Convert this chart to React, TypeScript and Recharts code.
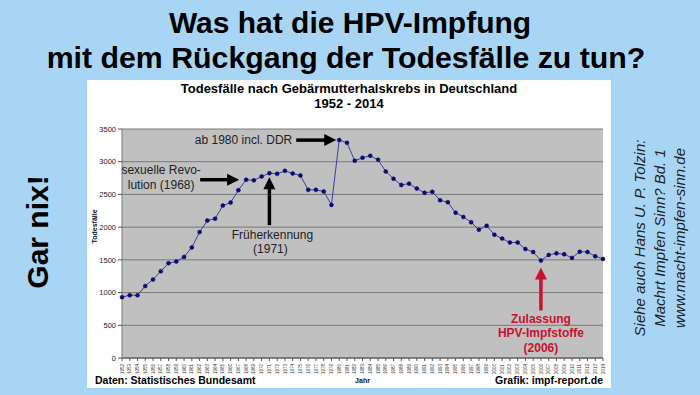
import React from "react";
import {
  LineChart,
  Line,
  XAxis,
  YAxis,
  CartesianGrid,
  ReferenceDot,
} from "recharts";

// ── Data ─────────────────────────────────────────────────────────────────────

const years = [
  1952, 1953, 1954, 1955, 1956, 1957, 1958, 1959, 1960, 1961, 1962, 1963,
  1964, 1965, 1966, 1967, 1968, 1969, 1970, 1971, 1972, 1973, 1974, 1975,
  1976, 1977, 1978, 1979, 1980, 1981, 1982, 1983, 1984, 1985, 1986, 1987,
  1988, 1989, 1990, 1991, 1992, 1993, 1994, 1995, 1996, 1997, 1998, 1999,
  2000, 2001, 2002, 2003, 2004, 2005, 2006, 2007, 2008, 2009, 2010, 2011,
  2012, 2013, 2014,
];

const deaths = [
  930, 960, 960, 1100, 1200, 1325, 1450, 1475, 1545, 1690, 1925, 2100,
  2130, 2330, 2375, 2565, 2725, 2715, 2775, 2825, 2815, 2860, 2820, 2790,
  2570, 2570, 2545, 2340, 3330, 3290, 3015, 3060, 3090, 3030, 2850, 2740,
  2645, 2665, 2590, 2525, 2540, 2410, 2380, 2220, 2155, 2075, 1960, 2020,
  1885, 1825, 1765, 1765, 1665, 1620, 1490, 1575, 1600, 1585, 1530, 1625,
  1620, 1555, 1515,
];

const yTicks = [0, 500, 1000, 1500, 2000, 2500, 3000, 3500];

const data = years.map((y, i) => ({ year: String(y), deaths: deaths[i] }));

// ── Styles ───────────────────────────────────────────────────────────────────

const FONT = "'Liberation Sans', Arial, sans-serif";
const BG = "#a9d5f5";
const RED = "#c8122e";

const abs = (style: React.CSSProperties): React.CSSProperties => ({
  position: "absolute",
  fontFamily: FONT,
  whiteSpace: "nowrap",
  lineHeight: 1,
  ...style,
});

// ── Annotation shapes (anchored to data points) ──────────────────────────────

function HArrow({ x1, x2, y, color = "#000" }: { x1: number; x2: number; y: number; color?: string }) {
  const head = 12;
  return (
    <g>
      <line x1={x1} y1={y} x2={x2 - head + 1} y2={y} stroke={color} strokeWidth={3.5} />
      <polygon points={`${x2},${y} ${x2 - head},${y - 6} ${x2 - head},${y + 6}`} fill={color} />
    </g>
  );
}

function VArrow({ x, y1, y2, color = "#000" }: { x: number; y1: number; y2: number; color?: string }) {
  const head = 12;
  return (
    <g>
      <line x1={x} y1={y2} x2={x} y2={y1 + head - 1} stroke={color} strokeWidth={3.5} />
      <polygon points={`${x},${y1} ${x - 6},${y1 + head} ${x + 6},${y1 + head}`} fill={color} />
    </g>
  );
}

const annText = { fontFamily: FONT, fontSize: 12, fill: "#222" };

const DdrShape = ({ cx, cy }: any) => (
  <g>
    <HArrow x1={cx - 43} x2={cx - 3} y={cy} />
    <text x={cx - 47} y={cy + 4} textAnchor="end" {...annText}>
      ab 1980 incl. DDR
    </text>
  </g>
);

const RevoShape = ({ cx, cy }: any) => (
  <g>
    <HArrow x1={cx - 46} x2={cx - 7} y={cy} />
    <text x={cx - 85} y={cy - 6} textAnchor="middle" {...annText}>
      sexuelle Revo-
    </text>
    <text x={cx - 85} y={cy + 9} textAnchor="middle" {...annText}>
      lution (1968)
    </text>
  </g>
);

const FruehShape = ({ cx, cy }: any) => (
  <g>
    <VArrow x={cx} y1={cy + 4} y2={cy + 52} />
    <text x={cx + 3} y={cy + 66} textAnchor="middle" {...annText}>
      Früherkennung
    </text>
    <text x={cx + 1} y={cy + 80} textAnchor="middle" {...annText}>
      (1971)
    </text>
  </g>
);

const HpvShape = ({ cx, cy }: any) => {
  const t = { fontFamily: FONT, fontSize: 12, fontWeight: 700, fill: RED };
  return (
    <g>
      <VArrow x={cx} y1={cy + 7} y2={cy + 50} color={RED} />
      <text x={cx} y={cy + 62} textAnchor="middle" {...t}>Zulassung</text>
      <text x={cx} y={cy + 76} textAnchor="middle" {...t}>HPV-Impfstoffe</text>
      <text x={cx} y={cy + 91} textAnchor="middle" {...t}>(2006)</text>
    </g>
  );
};

const YearTick = ({ x, y, payload }: any) => (
  <text
    x={x}
    y={y + 1}
    transform={`rotate(-90 ${x} ${y + 1})`}
    textAnchor="end"
    dy={1.6}
    fontSize={4.5}
    fontFamily={FONT}
    fill="#333"
  >
    {payload.value}
  </text>
);

// ── Chart ────────────────────────────────────────────────────────────────────

function DeathsChart() {
  return (
    <LineChart
      width={524}
      height={308}
      data={data}
      margin={{ top: 49, right: 8, left: 0, bottom: 0 }}
    >
      <CartesianGrid vertical={false} fill="#c0c0c0" stroke="#7a7a7a" strokeWidth={1} />
      <XAxis
        dataKey="year"
        interval={0}
        height={30}
        tick={<YearTick />}
        tickLine={{ stroke: "#555" }}
        tickSize={3}
        axisLine={{ stroke: "#555" }}
        label={{
          value: "Jahr",
          position: "insideBottom",
          offset: 5,
          fontSize: 7,
          fontWeight: 700,
          fill: "#111",
          fontFamily: FONT,
        }}
      />
      <YAxis
        width={35}
        domain={[0, 3500]}
        ticks={yTicks}
        interval={0}
        tick={{ fontSize: 7.5, fill: "#222", fontFamily: FONT }}
        tickSize={4}
        tickLine={{ stroke: "#555" }}
        axisLine={{ stroke: "#777" }}
        label={{
          value: "Todesfälle",
          angle: -90,
          position: "insideLeft",
          offset: 8,
          fontSize: 7,
          fontWeight: 700,
          fill: "#111",
          fontFamily: FONT,
        }}
      />
      <Line
        type="linear"
        dataKey="deaths"
        stroke="#3b3ba8"
        strokeWidth={1}
        dot={{ r: 2, fill: "#0b0b70", stroke: "#0b0b70", strokeWidth: 0.5 }}
        isAnimationActive={false}
      />
      <ReferenceDot x="1980" y={3330} r={0} shape={<DdrShape />} ifOverflow="visible" />
      <ReferenceDot x="1968" y={2725} r={0} shape={<RevoShape />} ifOverflow="visible" />
      <ReferenceDot x="1971" y={2825} r={0} shape={<FruehShape />} ifOverflow="visible" />
      <ReferenceDot x="2006" y={1490} r={0} shape={<HpvShape />} ifOverflow="visible" />
    </LineChart>
  );
}

export default function App() {
  return (
    <div
      style={{
        position: "absolute",
        left: 0,
        top: 0,
        width: 700,
        height: 395,
        background: BG,
        overflow: "hidden",
        fontFamily: FONT,
      }}
    >
      <div style={abs({ left: 0, width: 700, top: 8, textAlign: "center", fontSize: 30, fontWeight: 700 })}>
        Was hat die HPV-Impfung
      </div>
      <div style={abs({ left: -4, width: 700, top: 43, textAlign: "center", fontSize: 30.3, fontWeight: 700 })}>
        mit dem Rückgang der Todesfälle zu tun?
      </div>

      <div style={{ position: "absolute", left: 87, top: 80, width: 524, height: 308, background: "#fff" }}>
        <div style={abs({ left: 0, width: 524, top: 2, textAlign: "center", fontSize: 13, fontWeight: 700 })}>
          Todesfälle nach Gebärmutterhalskrebs in Deutschland
        </div>
        <div style={abs({ left: 0, width: 524, top: 17, textAlign: "center", fontSize: 13, fontWeight: 700 })}>
          1952 - 2014
        </div>
        <div style={{ position: "absolute", left: 0, top: 0 }}>
          <DeathsChart />
        </div>
        <div style={abs({ left: 8, top: 295, fontSize: 10.5, fontWeight: 700 })}>
          Daten: Statistisches Bundesamt
        </div>
        <div style={abs({ right: 8, top: 295, fontSize: 10.5, fontWeight: 700 })}>
          Grafik: impf-report.de
        </div>
      </div>

      <div
        style={abs({
          left: 38,
          top: 232,
          fontSize: 30,
          fontWeight: 700,
          transform: "translate(-50%, -50%) rotate(-90deg)",
        })}
      >
        Gar nix!
      </div>

      <div
        style={abs({
          left: 660,
          top: 238,
          fontSize: 15,
          fontStyle: "italic",
          color: "#222",
          textAlign: "center",
          lineHeight: "20px",
          transform: "translate(-50%, -50%) rotate(-90deg)",
        })}
      >
        Siehe auch Hans U. P. Tolzin:
        <br />
        Machrt Impfen Sinn? Bd. 1
        <br />
        www.macht-impfen-sinn.de
      </div>
    </div>
  );
}
